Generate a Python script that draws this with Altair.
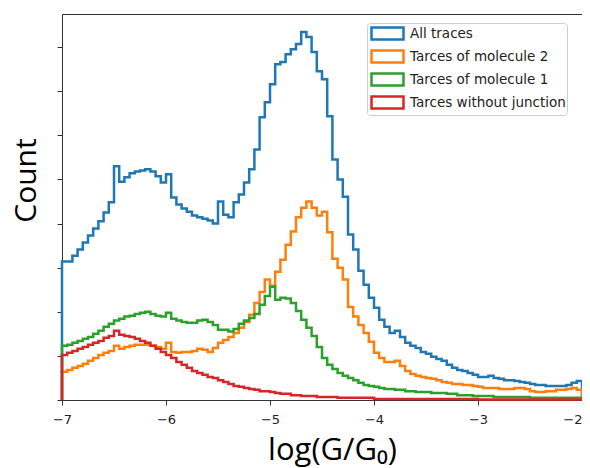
import altair as alt
import pandas as pd

# histogram bin left edges (log(G/G0)), width 0.05, from -7 to -2
bin_width = 0.05
n_bins = 100
edges = [round(-7 + bin_width * i, 2) for i in range(n_bins)]

series_names = ["All traces", "Tarces of molecule 2", "Tarces of molecule 1", "Tarces without junction"]
series_colors = ["#1f77b4", "#ff7f0e", "#2ca02c", "#d62728"]

all_traces = [
    314, 314, 327, 341, 357, 373, 389, 405, 425, 448,
    530, 495, 505, 514, 518, 520, 523, 518, 507, 493,
    512, 459, 443, 434, 427, 418, 414, 411, 407, 400,
    450, 420, 414, 448, 466, 493, 523, 568, 641, 675,
    716, 761, 766, 784, 795, 807, 834, 823, 789, 745,
    727, 643, 545, 500, 461, 375, 341, 293, 261, 232,
    209, 182, 166, 152, 157, 143, 130, 123, 118, 109,
    105, 98, 93, 89, 80, 73, 68, 66, 61, 57,
    52, 52, 55, 50, 48, 45, 45, 43, 41, 39,
    36, 34, 34, 32, 32, 32, 32, 34, 39, 43,
]
molecule2 = [
    64, 68, 73, 77, 82, 89, 95, 102, 107, 111,
    123, 116, 120, 123, 125, 125, 125, 123, 120, 116,
    130, 109, 107, 109, 109, 111, 116, 114, 109, 118,
    130, 136, 143, 152, 164, 177, 193, 220, 245, 273,
    259, 291, 318, 352, 382, 414, 436, 450, 436, 418,
    427, 380, 320, 300, 273, 211, 189, 170, 152, 132,
    107, 95, 86, 86, 89, 77, 66, 59, 55, 52,
    50, 48, 45, 41, 39, 36, 36, 34, 34, 32,
    30, 27, 27, 27, 25, 25, 25, 27, 27, 25,
    20, 18, 18, 20, 20, 23, 23, 25, 27, 23,
]
molecule1 = [
    123, 125, 130, 134, 139, 143, 150, 157, 166, 173,
    180, 184, 189, 191, 195, 198, 200, 195, 191, 189,
    198, 184, 180, 177, 175, 175, 180, 182, 177, 170,
    159, 159, 155, 161, 173, 180, 186, 195, 216, 236,
    257, 227, 232, 230, 220, 202, 182, 164, 145, 120,
    95, 80, 70, 61, 55, 50, 45, 39, 34, 32,
    30, 27, 25, 25, 23, 23, 20, 20, 18, 18,
    18, 16, 16, 16, 14, 14, 11, 11, 11, 9,
    9, 9, 9, 7, 7, 7, 7, 7, 7, 7,
    5, 5, 5, 5, 5, 5, 5, 5, 5, 5,
]
no_junction = [
    102, 107, 111, 116, 120, 125, 130, 134, 141, 145,
    157, 148, 145, 143, 139, 134, 130, 123, 116, 109,
    102, 95, 86, 80, 73, 66, 61, 57, 52, 50,
    45, 41, 36, 32, 30, 27, 25, 23, 20, 20,
    18, 16, 14, 14, 11, 11, 9, 9, 9, 7,
    7, 7, 7, 5, 5, 5, 5, 5, 5, 5,
    2, 2, 2, 2, 2, 2, 2, 2, 2, 2,
    2, 2, 2, 2, 2, 2, 2, 2, 2, 2,
    1, 1, 1, 1, 1, 1, 1, 1, 1, 1,
    1, 1, 1, 1, 1, 1, 1, 1, 1, 1,
]

x_ticks = [-7, -6, -5, -4, -3, -2]
y_ticks = [0, 100, 200, 300, 400, 500, 600, 700, 800]

rows = []
for name, vals in zip(series_names, [all_traces, molecule2, molecule1, no_junction]):
    # matplotlib 'step' histogram outline: up from 0 at the first edge, down to 0 at the last
    rows.append({"series": name, "x": -7.0, "y": 0, "idx": 0})
    for i, (e, v) in enumerate(zip(edges, vals)):
        rows.append({"series": name, "x": e, "y": v, "idx": i + 1})
    rows.append({"series": name, "x": -2.0, "y": vals[-1], "idx": n_bins + 1})
    rows.append({"series": name, "x": -2.0, "y": 0, "idx": n_bins + 2})
df = pd.DataFrame(rows)

chart = alt.Chart(df).mark_line(interpolate="step-after", strokeWidth=2.5).encode(
    x=alt.X(
        "x:Q",
        scale=alt.Scale(domain=[-7, -2], nice=False, zero=False),
        axis=alt.Axis(
            values=x_ticks, format="d", title="log(G/G₀)", grid=False,
            labelFont="DejaVu Sans", labelFontSize=13, labelColor="#222", labelPadding=8,
            labelAlign={"condition": {"test": "datum.value == -2", "value": "right"}, "value": "center"},
            tickSize=5, tickColor="#333", domainColor="#333",
            titleFont="Open Sans", titleFontSize=31, titleFontWeight=500, titleColor="black",
            titleX=270, titleY=59, titleAlign="center", titleBaseline="alphabetic",
        ),
    ),
    y=alt.Y(
        "y:Q",
        scale=alt.Scale(domain=[0, 875], nice=False),
        axis=alt.Axis(
            values=y_ticks, labels=False, title="Count", grid=False,
            tickSize=5, tickColor="#333", domainColor="#333",
            titleFont="Open Sans", titleFontSize=30, titleFontWeight=500, titleColor="black",
            titleAngle=270, titleX=-36, titleY=166, titleAlign="center", titleBaseline="middle",
        ),
    ),
    color=alt.Color(
        "series:N",
        scale=alt.Scale(domain=series_names, range=series_colors),
        legend=alt.Legend(
            title=None, orient="none", direction="vertical", legendX=305, legendY=9,
            symbolType="M-2,-0.75H2V0.75H-2Z", symbolSize=256, symbolStrokeWidth=2.5,
            symbolFillColor="white", symbolOffset=10, labelOffset=13,
            labelExpr="datum.label + '\u2002\u2002'",
            labelFont="DejaVu Sans", labelFontSize=13.5, labelColor="#222", labelLimit=0,
            padding=1, rowPadding=0, strokeColor="#d0d0d0", fillColor="white", cornerRadius=3,
        ),
    ),
    order=alt.Order("idx:Q"),
).properties(
    width=520, height=386,
    autosize=alt.AutoSizeParams(type="none"),
    padding={"left": 54, "top": 6, "right": 0, "bottom": 70},
).configure_view(stroke="#333", strokeWidth=1)

chart.save("out.html", embed_options={"renderer": "svg", "actions": False})
